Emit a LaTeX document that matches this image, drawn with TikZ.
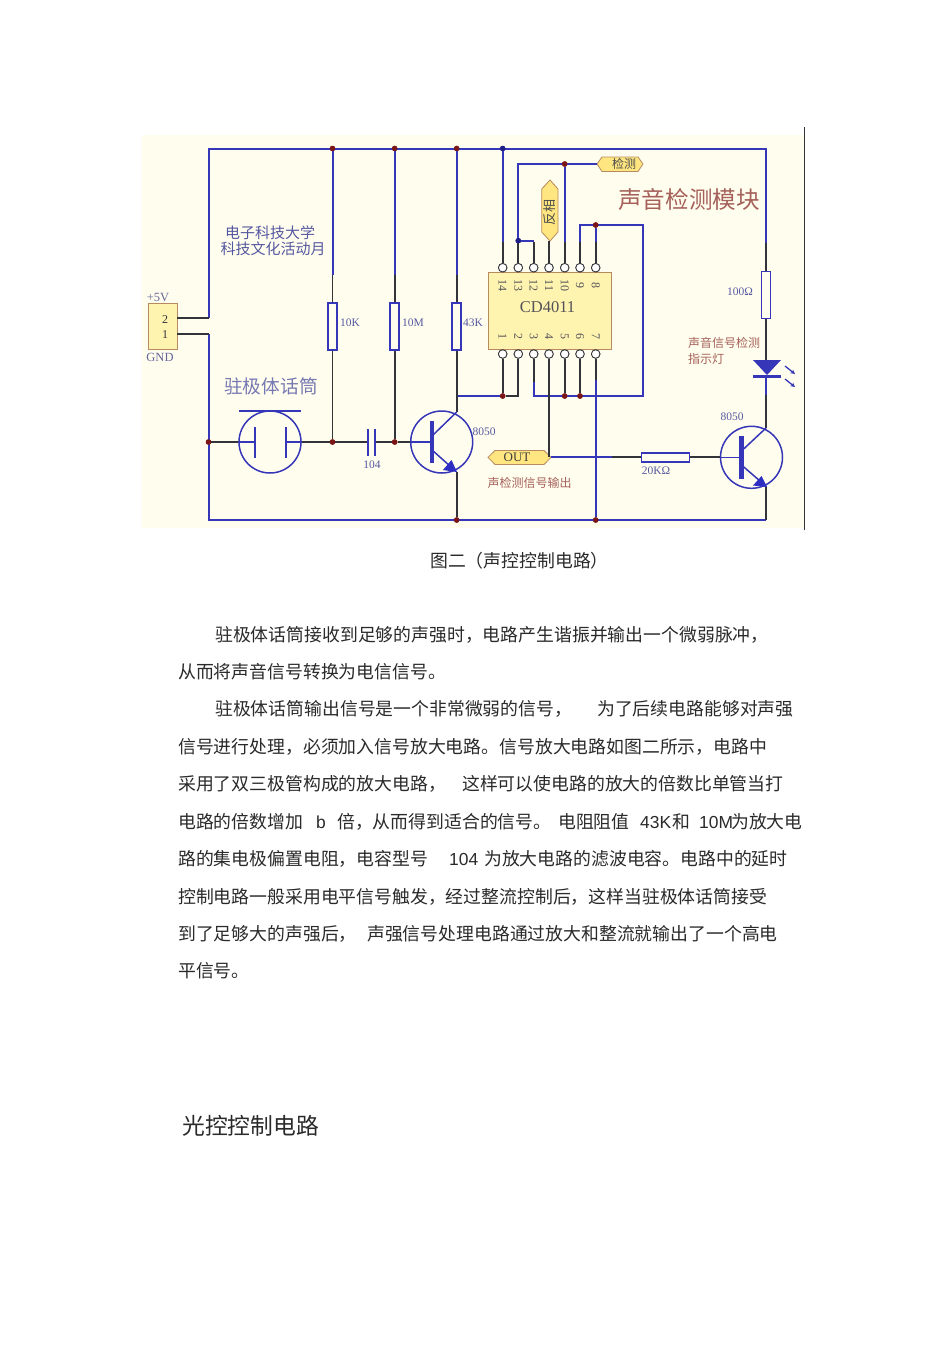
\documentclass[tikz,border=0pt]{standalone}
\usepackage{fontspec}
\usetikzlibrary{arrows.meta}
\setmainfont{Liberation Sans}
\newfontfamily\cjk{Noto Sans CJK SC}
\newfontfamily\serifl{Liberation Serif}
\newcommand{\ptx}[2]{\node[anchor=base west,inner sep=0pt,text=bodyc,font=\cjk\fontsize{17.85}{17.85}\selectfont] at (#1,#2)}
\newcommand{\ltx}[2]{\node[anchor=base west,inner sep=0pt,text=bodyc,font=\fontsize{17.4}{17.4}\selectfont] at (#1,#2)}
\definecolor{bodyc}{HTML}{2A2A2A}
\definecolor{bg}{HTML}{FFFEEE}
\definecolor{wire}{HTML}{3636B8}
\definecolor{dk}{HTML}{33333A}
\definecolor{jn}{HTML}{7A1616}
\definecolor{chip}{HTML}{FFF3B0}
\definecolor{chipb}{HTML}{B88A60}
\definecolor{brn}{HTML}{A5605A}
\definecolor{nvy}{HTML}{5558A0}
\definecolor{lab}{HTML}{FFE680}
\tikzset{
 x=1pt,y=-1pt,
 bw/.style={draw=wire,line width=2pt,line join=miter},
 dw/.style={draw=dk,line width=1.8pt},
 th/.style={draw=wire,line width=1.5pt},
 res/.style={draw=wire,fill=bg,line width=1.7pt,rectangle,inner sep=0pt,minimum width=9pt,minimum height=47pt},
 hres/.style={res,minimum width=48pt,minimum height=9pt},
 dot/.style={circle,fill=jn,inner sep=0pt,minimum size=5.5pt},
 pin/.style={circle,draw=dk,fill=white,line width=.8pt,inner sep=0pt,minimum size=8.5pt},
 ring/.style={circle,draw=wire,line width=1.5pt,inner sep=0pt,minimum size=62pt},
 lb/.style={inner sep=0pt,font=\serifl\fontsize{11.5}{11.5}\selectfont,text=nvy},
 gr/.style={inner sep=0pt,font=\serifl\fontsize{12.5}{12.5}\selectfont,text=gray!80!blue},
 cj/.style={inner sep=0pt,text=nvy},
 pn/.style={inner sep=0pt,font=\serifl\fontsize{12}{12}\selectfont,text=dk!85,rotate=-90},
 sig/.style={draw=chipb,fill=lab,line width=.8pt},
}
\begin{document}
\begin{tikzpicture}
\useasboundingbox (0,0) rectangle (950,1345);
\fill[white] (0,0) rectangle (950,1345);
\fill[bg] (142,135) rectangle (804,528);
\draw[line width=.9pt,dk] (804,127) -- (804,530);
% named points
\coordinate (tl) at (208.5,148.5);
\coordinate (tr) at (766,148.5);
\coordinate (bl) at (208.5,520);
\coordinate (br) at (766,520);
% parts
\node[res] (r10k) at (332.5,326.5) {};
\node[res] (r10m) at (394.7,326.5) {};
\node[res] (r43k) at (456.7,326.5) {};
\node[res] (r100) at (766,295) {};
\node[hres] (r20k) at (665.5,457.3) {};
\node[ring] (mic) at (270,442) {};
\node[ring] (t1) at (441.7,442) {};
\node[ring] (t2) at (751.5,457.3) {};
\node[draw=chipb,fill=chip,line width=1pt,inner sep=0pt,minimum width=123.5pt,minimum height=77pt] (ic) at (549.8,310.7) {};
\node[draw=chipb,fill=chip,line width=1pt,inner sep=0pt,minimum width=29pt,minimum height=46pt] (conn) at (162.5,326) {};
% pins
\foreach \n/\x in {14/502.7,13/518.3,12/533.7,11/549,10/564.7,9/580,8/595.7}{
  \node[pin] (p\n) at (\x,267.7) {};
  \node[pn] at (\x,285.5) {\n};
}
\foreach \n/\x in {1/502.7,2/518.3,3/533.7,4/549,5/564.7,6/580,7/595.7}{
  \node[pin] (p\n) at (\x,354) {};
  \node[pn] at (\x,336.5) {\n};
}
% junction coordinates
\node[dot] (j1) at (332.5,148.5) {};
\node[dot] (j2) at (394.7,148.5) {};
\node[dot] (j3) at (456.7,148.5) {};
\node[dot,fill=dk!70!blue] (j4) at (502.7,148.5) {};
\node[dot] (j5) at (564.7,164) {};
\node[dot,fill=dk!70!blue] (j6) at (518.3,240.7) {};
\node[dot] (j7) at (595.7,225) {};
\node[dot] (j8) at (502.7,396) {};
\node[dot] (j9) at (564.7,396) {};
\node[dot] (j10) at (580,396) {};
\node[dot] (j11) at (208.5,442) {};
\node[dot] (j12) at (332.5,442) {};
\node[dot] (j13) at (394.7,442) {};
\node[dot] (j14) at (456.7,520) {};
\node[dot] (j15) at (595.7,520) {};
% signal labels
\draw[sig] (597,164) -- (602,157) -- (638,157) -- (643,164) -- (638,171.5) -- (602,171.5) -- cycle;
\node[inner sep=0pt,text=black!70,font=\cjk\fontsize{12}{12}\selectfont] at (624,164) {检测};
\coordinate (detw) at (597,164);
\draw[sig] (550,180) -- (558,189) -- (558,232) -- (550,241) -- (541.7,232) -- (541.7,189) -- cycle;
\node[inner sep=0pt,rotate=90,text=black!70,font=\cjk\fontsize{13}{13}\selectfont] at (550,212) {反相};
\coordinate (inv) at (549,241);
\draw[sig] (488,457.3) -- (495,450.5) -- (544,450.5) -- (551,457.3) -- (544,464.5) -- (495,464.5) -- cycle;
\node[inner sep=0pt,text=black!75,font=\serifl\fontsize{13}{13}\selectfont] at (517,457.6) {OUT};
\coordinate (outw) at (551,457.3);
% wires : blue parts
\draw[bw] (208.5,318) -- (tl) -- (tr) -- (766,243);
\draw[bw] (208.5,334) -- (bl) -- (br) ;
\draw[bw] (j1) -- (332.5,275);
\draw[bw] (j2) -- (394.7,275);
\draw[bw] (j3) -- (456.7,275);
\draw[bw] (j4) -- (502.7,242);
\draw[bw] (detw) -- (518.3,164) -- (j6);
\draw[bw] (j6) -- (533.7,240.7);
\draw[bw] (j5) -- (564.7,242);
\draw[bw] (580,242) -- (580,225) -- (642.7,225) -- (642.7,396) -- (533.7,396) -- (533.7,382);
\draw[bw] (j7) -- (595.7,242);
\draw[bw] (595.7,380) -- (j15);
\draw[bw] (502.7,396) -- (456.7,396);
\draw[bw] (outw) -- (612,457.3);
\draw[bw] (766,375) -- (766,395);
% dark parts
\draw[dw] (p14) -- (502.7,242);
\draw[dw] (p13) -- (518.3,242);
\draw[dw] (p12) -- (533.7,242);
\draw[dw] (p11) -- (inv);
\draw[dw] (p10) -- (564.7,242);
\draw[dw] (p9) -- (580,242);
\draw[dw] (p8) -- (595.7,242);
\draw[dw] (p1) -- (j8);
\draw[dw] (p2) -- (518.3,396) -- (j8);
\draw[dw] (p3) -- (533.7,382);
\draw[dw] (p4) -- (549,457.3);
\draw[dw] (p5) -- (j9);
\draw[dw] (p6) -- (j10);
\draw[dw] (p7) -- (595.7,380);
\draw[dw] (332.5,275) -- (r10k);
\draw[dw] (394.7,275) -- (r10m);
\draw[dw] (456.7,275) -- (r43k);
\draw[dw] (r10k) -- (j12);
\draw[dw] (r10m) -- (j13);
\draw[dw] (r43k) -- (456.7,412);
\draw[dw] (766,243) -- (r100);
\draw[dw] (r100) -- (766,360);
\draw[dw] (766,395) -- (766,428);
\draw[dw] (766,486) -- (br);
\draw[dw] (j11) -- (238,442);
\draw[dw] (302,442) -- (j12) -- (367.7,442);
\draw[dw] (375,442) -- (j13) -- (410,442);
\draw[dw] (612,457.3) -- (r20k);
\draw[dw] (r20k) -- (720,457.3);
\draw[dw] (177,318) -- (208.5,318);
\draw[dw] (177,334) -- (208.5,334);
% microphone
\draw[wire,line width=1.5pt] (239,411) -- (301,411);
\draw[th] (238,442) -- (255,442);
\draw[th] (285,442) -- (302,442);
\draw[wire,line width=1.8pt] (255,427) -- (255,458);
\draw[wire,line width=1.8pt] (286,427) -- (286,458);
% capacitor
\draw[wire,line width=1.8pt] (367.7,429) -- (367.7,456);
\draw[wire,line width=1.8pt] (375,429) -- (375,456);
% T1
\draw[wire,line width=4.5pt] (432,421) -- (432,463);
\draw[th] (410,442) -- (432,442);
\draw[th] (432,436) -- (456.7,412);
\draw[th] (432,450) -- (450,466);
\fill[wire!85!blue] (443,470) -- (451.5,460) -- (457,472) -- cycle;
\draw[dw] (456.7,472) -- (j14);
% T2
\draw[wire,line width=4.5pt] (741.5,436) -- (741.5,479);
\draw[th] (720,457.3) -- (741.5,457.3);
\draw[th] (741.5,451) -- (766,428);
\draw[th] (741.5,465) -- (760,481);
\fill[wire!85!blue] (753,485.5) -- (761.5,476) -- (767,487) -- cycle;
% LED
\fill[wire] (753,360) -- (781,360) -- (767,375) -- cycle;
\draw[wire,line width=2.5pt] (753,376.5) -- (781,376.5);
\draw[-{Stealth[length=4.5pt,width=4.5pt]},wire,line width=1.3pt] (785,366) -- (795,374);
\draw[-{Stealth[length=4.5pt,width=4.5pt]},wire,line width=1.3pt] (785,379) -- (795,387);
% junctions re-drawn on top
\foreach \j in {j1,j2,j3,j5,j7,j8,j9,j10,j11,j12,j13,j14,j15}{\fill[jn] (\j) circle (2.75pt);}
\foreach \j in {j4,j6}{\fill[dk!60!blue] (\j) circle (2.75pt);}
% pins on top
\foreach \n in {1,...,14}{\node[pin] at (p\n) {};}
% labels
\node[inner sep=0pt,font=\serifl\fontsize{16.5}{16.5}\selectfont,text=dk!85] at (547.5,307) {CD4011};
\node[inner sep=0pt,font=\serifl\fontsize{12}{12}\selectfont,text=dk] at (165,320) {2};
\node[inner sep=0pt,font=\serifl\fontsize{12}{12}\selectfont,text=dk] at (165,335) {1};
\node[gr] at (158,297) {+5V};
\node[gr] at (160,357) {GND};
\node[lb] at (350,323) {10K};
\node[lb] at (413,323) {10M};
\node[lb] at (473,323) {43K};
\node[lb] at (740,291.5) {100Ω};
\node[lb] at (372,465) {104};
\node[lb] at (484,432) {8050};
\node[lb] at (732,417) {8050};
\node[lb] at (656,471) {20KΩ};
\node[cj,font=\cjk\fontsize{15}{15}\selectfont] at (270,232.5) {电子科技大学};
\node[cj,font=\cjk\fontsize{15}{15}\selectfont] at (273,248.5) {科技文化活动月};
\node[inner sep=0pt,text=nvy!80,font=\cjk\fontsize{18.7}{18.7}\selectfont] at (271,386) {驻极体话筒};
\node[inner sep=0pt,text=brn,font=\cjk\fontsize{23.6}{23.6}\selectfont] at (689,199) {声音检测模块};
\node[inner sep=0pt,anchor=west,text=brn,font=\cjk\fontsize{12}{12}\selectfont] at (688,343) {声音信号检测};
\node[inner sep=0pt,anchor=west,text=brn,font=\cjk\fontsize{12}{12}\selectfont] at (688,359) {指示灯};
\node[inner sep=0pt,anchor=west,text=brn,font=\cjk\fontsize{12}{12}\selectfont] at (487.5,483) {声检测信号输出};
% text
\ptx{430}{567} {图二（声控控制电路）};
\ptx{215}{641} {驻极体话筒接收到足够的声强时，电路产生谐振并输出一个微弱脉冲，};
\ptx{178}{678} {从而将声音信号转换为电信信号。};
\ptx{215}{715} {驻极体话筒输出信号是一个非常微弱的信号，};
\ptx{597}{715} {为了后续电路能够对声强};
\ptx{178}{753} {信号进行处理，必须加入信号放大电路。信号放大电路如图二所示，电路中};
\ptx{178}{790} {采用了双三极管构成的放大电路，};
\ptx{462}{790} {这样可以使电路的放大的倍数比单管当打};
\ptx{178}{828} {电路的倍数增加};
\ltx{316}{828} {b};
\ptx{337}{828} {倍，从而得到适合的信号。};
\ptx{558}{828} {电阻阻值};
\ltx{640}{828} {43K};
\ptx{672}{828} {和};
\ltx{699}{828} {10M};
\ptx{731}{828} {为放大电};
\ptx{178}{865} {路的集电极偏置电阻，电容型号};
\ltx{449}{865} {104};
\ptx{484}{865} {为放大电路的滤波电容。电路中的延时};
\ptx{178}{903} {控制电路一般采用电平信号触发，经过整流控制后，这样当驻极体话筒接受};
\ptx{178}{940} {到了足够大的声强后，};
\ptx{367}{940} {声强信号处理电路通过放大和整流就输出了一个高电};
\ptx{178}{977} {平信号。};
\node[anchor=base west,inner sep=0pt,text=bodyc,font=\cjk\fontsize{22.8}{22.8}\selectfont] at (182,1134) {光控控制电路};
\end{tikzpicture}
\end{document}
